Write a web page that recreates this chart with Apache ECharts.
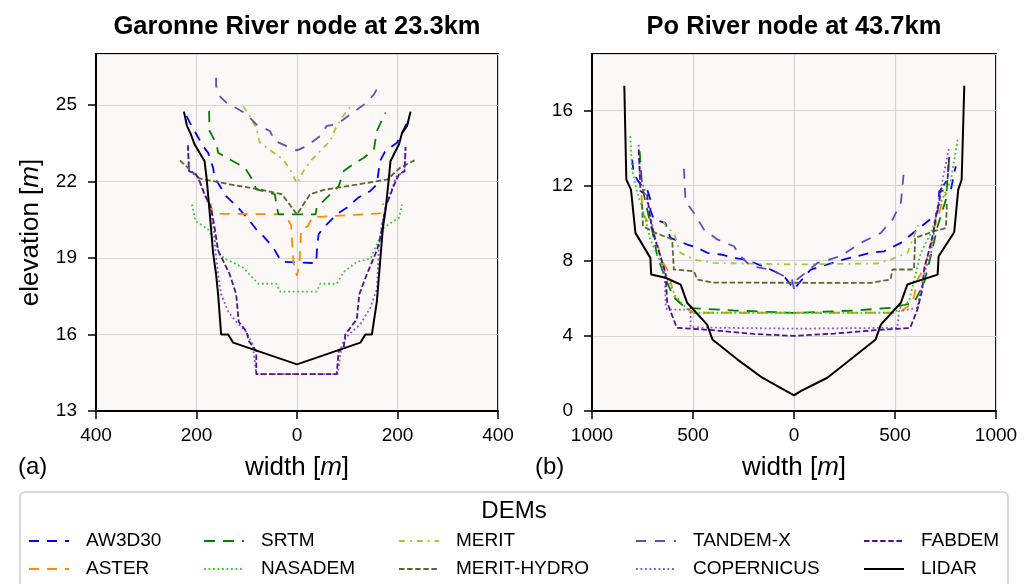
<!DOCTYPE html>
<html>
<head>
<meta charset="utf-8">
<script src="https://cdn.jsdelivr.net/npm/echarts@6/dist/echarts.min.js"></script>
<style>
  html, body { margin: 0; padding: 0; background: #fff; }
  #chart { width: 1031px; height: 584px; }
</style>
</head>
<body>
<div id="chart"></div>
<script>
// DEM names, in legend order (column by column)
const demNames = ['AW3D30', 'ASTER', 'SRTM', 'NASADEM', 'MERIT', 'MERIT-HYDRO', 'TANDEM-X', 'COPERNICUS', 'FABDEM', 'LIDAR'];

// Garonne River node at 23.3km : [width m, elevation m]
const garAW3D30 = [[-220,24.57],[-213,24.3],[-187,23.39],[-177,23.13],[-167,22.54],[-164,22.15],[-141,21.43],[-117,20.97],[-94,20.45],[-81,20.12],[-67,19.86],[-47,19.4],[-31,18.85],[38,18.8],[40,19.4],[43,19.93],[53,20.19],[79,20.71],[99,20.97],[122,21.37],[146,21.63],[159,21.89],[165,22.8],[176,23.2],[199,23.52],[219,24.3],[223,24.57]];
const garASTER = [[-172,21.15],[-168,20.73],[-25,20.72],[-12,20.3],[-9,19.4],[-7,18.8],[0,18.3],[5,18.8],[7,19.6],[8,20.1],[22,20.25],[30,20.6],[166,20.75],[172,21.15]];
const garSRTM = [[-175,24.76],[-174,23.98],[-160,23.46],[-157,23.13],[-134,22.87],[-104,22.54],[-91,22.15],[-81,21.69],[-44,21.5],[-41,21.1],[-37,20.71],[37,20.71],[39,20.97],[66,21.5],[83,21.82],[93,22.41],[106,22.6],[133,22.93],[153,23.26],[159,23.98],[176,24.7]];
const garNASADEM = [[-209,21.1],[-202,20.45],[-177,20.12],[-164,19.67],[-154,19.14],[-141,18.95],[-107,18.62],[-77,17.99],[-41,17.99],[-34,17.68],[39,17.68],[46,17.99],[79,17.99],[93,18.45],[119,18.85],[146,18.97],[159,19.54],[173,20.19],[203,20.58],[209,21.1]];
const garMERIT = [[-107,24.95],[-94,24.57],[-81,24.1],[-74,23.52],[-51,23.2],[-28,22.87],[-14,22.48],[0,21.92],[13,22.42],[30,22.87],[66,23.59],[76,24.05],[89,24.5],[109,25.0]];
const garMERITHYDRO = [[-233,22.83],[-194,22.12],[-134,21.89],[-75,21.69],[-30,21.5],[0,20.71],[26,21.5],[53,21.67],[119,21.88],[180,22.08],[205,22.54],[234,22.83]];
const garTANDEMX = [[-161,26.07],[-161,25.75],[-154,25.35],[-141,25.1],[-105,24.7],[-87,24.37],[-81,24.24],[-54,23.98],[-44,23.59],[-21,23.39],[0,23.22],[19,23.39],[46,23.78],[59,24.18],[79,24.24],[106,24.63],[139,25.1],[153,25.42],[163,25.75]];
const garCOPERNICUS = [[-217,23.3],[-214,22.4],[-198,22.2],[-186,21.6],[-172,20.9],[-165,20.0],[-163,19.4],[-157,18.36],[-151,17.58],[-137,16.9],[-121,16.5],[-101,16.1],[-88,15.6],[-81,14.45],[81,14.45],[89,15.6],[103,16.0],[126,16.4],[146,17.05],[159,17.8],[163,19.4],[168,20.2],[176,21.0],[187,21.6],[198,22.2],[214,22.4],[216,23.3]];
const garFABDEM = [[-217,23.42],[-215,22.41],[-201,22.28],[-194,22.02],[-184,21.5],[-171,20.97],[-164,20.19],[-157,19.3],[-134,18.36],[-121,17.58],[-116,16.5],[-100,16.1],[-96,15.75],[-81,15.35],[-81,14.45],[79,14.45],[83,15.35],[93,15.5],[96,16.0],[119,16.6],[124,17.58],[139,18.36],[159,19.3],[166,19.8],[176,20.97],[186,21.5],[196,22.0],[203,22.28],[214,22.41],[216,23.35]];
const garLIDAR = [[-225,24.74],[-219,24.18],[-211,23.85],[-204,23.46],[-184,22.8],[-180,22.15],[-174,20.84],[-167,19.2],[-161,18.36],[-157,17.58],[-151,16.0],[-137,16.0],[-127,15.68],[0,14.83],[126,15.68],[136,16.0],[149,16.0],[159,17.3],[166,19.0],[171,20.2],[176,20.84],[183,22.15],[186,22.8],[203,23.46],[209,23.9],[219,24.18],[226,24.74]];

// Po River node at 43.7km : [width m, elevation m]
const poAW3D30 = [[-801,13.38],[-796,12.85],[-776,12.3],[-752,11.96],[-727,11.79],[-711,11.25],[-711,10.7],[-694,10.2],[-636,10.0],[-628,9.66],[-611,9.22],[-570,9.04],[-528,8.86],[-479,8.69],[-429,8.42],[-363,8.33],[-297,8.15],[-248,8.07],[-198,7.89],[-116,7.53],[-50,7.18],[0,6.5],[40,7.0],[83,7.53],[248,8.07],[380,8.42],[446,8.5],[529,8.95],[612,9.66],[694,10.37],[711,10.6],[719,11.7],[777,11.78],[793,12.67],[801,13.03]];
const poASTER = [[-755,11.5],[-752,11.0],[-745,10.4],[-711,9.9],[-677,9.0],[-661,8.1],[-620,7.4],[-595,6.11],[-545,5.58],[-496,5.23],[521,5.23],[587,5.76],[612,7.0],[644,7.6],[678,8.77],[686,9.48],[720,10.6],[744,11.43],[758,11.6]];
const poSRTM = [[-764,13.82],[-752,11.96],[-727,10.72],[-700,9.5],[-677,8.24],[-635,7.0],[-594,6.02],[-536,5.49],[-300,5.35],[0,5.22],[300,5.35],[480,5.49],[594,5.76],[644,6.82],[677,8.24],[711,9.83],[752,11.25],[769,13.55]];
const poNASADEM = [[-810,14.62],[-802,12.85],[-777,11.69],[-744,10.54],[-711,9.12],[-645,7.53],[-587,6.11],[-512,5.23],[496,5.23],[570,5.85],[595,7.0],[628,8.42],[678,9.48],[719,10.9],[777,12.31],[810,14.44]];
const poMERIT = [[-645,10.1],[-636,9.83],[-595,9.48],[-562,8.42],[-496,8.06],[-397,7.88],[0,7.8],[413,7.85],[479,8.06],[562,8.42],[612,9.83],[620,10.0]];
const poMERITHYDRO = [[-752,11.0],[-748,9.84],[-686,9.48],[-603,9.13],[-595,7.53],[-496,7.44],[-479,7.0],[-397,6.83],[380,6.82],[478,7.0],[487,7.53],[594,7.53],[600,9.21],[694,9.57],[752,9.74],[757,11.07]];
const poTANDEMX = [[-545,12.89],[-537,11.16],[-496,10.55],[-446,9.66],[-380,9.13],[-297,8.77],[-270,8.3],[-215,7.71],[-115,7.53],[-50,7.18],[-10,7.0],[0,6.5],[15,7.0],[50,7.3],[116,7.88],[231,8.24],[331,8.95],[430,9.48],[488,10.19],[529,11.08],[545,12.85]];
const poCOPERNICUS = [[-769,14.17],[-762,12.5],[-740,11.8],[-715,10.6],[-690,9.3],[-660,8.2],[-640,7.2],[-635,5.58],[-628,5.4],[-512,5.4],[-512,4.45],[0,4.38],[512,4.43],[520,5.31],[610,5.49],[630,6.5],[645,7.35],[678,8.42],[705,10.5],[730,12.0],[769,14.09]];
const poFABDEM = [[-769,13.9],[-762,12.3],[-760,11.7],[-727,11.5],[-711,10.2],[-690,9.2],[-660,8.2],[-636,7.35],[-628,5.8],[-612,5.31],[-580,4.43],[-400,4.3],[-200,4.1],[0,4.0],[200,4.12],[400,4.3],[575,4.42],[611,5.4],[635,6.47],[645,7.6],[670,8.6],[690,9.5],[705,10.5],[719,11.1],[727,11.79],[760,12.32],[769,13.65]];
const poLIDAR = [[-840,17.31],[-830,12.31],[-807,11.78],[-785,9.48],[-711,8.15],[-707,7.26],[-636,7.09],[-561,6.73],[-529,5.76],[-430,4.6],[-404,3.81],[-281,2.75],[-157,1.77],[0,0.83],[33,1.06],[165,1.77],[281,2.75],[404,3.81],[430,4.6],[529,5.76],[561,6.73],[711,7.26],[716,8.24],[793,9.51],[813,11.78],[830,12.31],[843,17.31]];

const garonneData = [garAW3D30, garASTER, garSRTM, garNASADEM, garMERIT, garMERITHYDRO, garTANDEMX, garCOPERNICUS, garFABDEM, garLIDAR];
const poData = [poAW3D30, poASTER, poSRTM, poNASADEM, poMERIT, poMERITHYDRO, poTANDEMX, poCOPERNICUS, poFABDEM, poLIDAR];

// line styles per DEM
const demStyles = [
  { color: '#0000ff', type: [10, 8], width: 1.8 },
  { color: '#ff8c00', type: [10, 8], width: 1.8 },
  { color: '#008000', type: [11, 8], width: 1.8 },
  { color: '#32cd32', type: [1.8, 2.7], width: 1.8 },
  { color: '#9acd32', type: [6, 5, 1.8, 5], width: 1.8 },
  { color: '#556b2f', type: [5.5, 2.6], width: 1.8 },
  { color: '#6a4bb5', type: [10, 9], width: 1.8 },
  { color: '#8a4fd8', type: [1.8, 2.7], width: 1.8 },
  { color: '#4b1590', type: [5.5, 2.6], width: 1.8 },
  { color: '#000000', type: 'solid', width: 2 }
];

const font = '"Liberation Sans", Arial, Helvetica, sans-serif';

const chart = echarts.init(document.getElementById('chart'));

function makeSeries(dataList, idx) {
  return dataList.map((d, i) => ({
    name: demNames[i],
    type: 'line',
    xAxisIndex: idx,
    yAxisIndex: idx,
    data: d,
    symbol: 'none',
    showSymbol: false,
    animation: false,
    color: demStyles[i].color,
    lineStyle: {
      color: demStyles[i].color,
      type: demStyles[i].type,
      width: demStyles[i].width
    },
    z: 2 + i
  }));
}

function xAxisCfg(idx, lim, step) {
  return {
    type: 'value',
    gridIndex: idx,
    min: -lim,
    max: lim,
    interval: step,
    name: 'width [{i|m}]',
    nameLocation: 'middle',
    nameGap: 44,
    nameTextStyle: {
      fontFamily: font, fontSize: 26, color: '#000',
      rich: { i: { fontFamily: font, fontSize: 26, fontStyle: 'italic', color: '#000' } }
    },
    axisLine: { show: true, onZero: false, lineStyle: { color: '#000', width: 2 } },
    axisTick: { show: true, length: 8, lineStyle: { color: '#000', width: 1.5 } },
    axisLabel: {
      fontFamily: font, fontSize: 19, color: '#000', margin: 15,
      formatter: v => String(Math.abs(v))
    },
    splitLine: { show: true, lineStyle: { color: '#d6d6d6', width: 1.2 } }
  };
}

function yAxisCfg(idx, lo, hi, step, withName) {
  const cfg = {
    type: 'value',
    gridIndex: idx,
    min: lo,
    max: hi,
    interval: step,
    axisLine: { show: true, onZero: false, lineStyle: { color: '#000', width: 2 } },
    axisTick: { show: true, length: 8, lineStyle: { color: '#000', width: 1.5 } },
    axisLabel: {
      fontFamily: font, fontSize: 19, color: '#000', margin: 19,
      showMaxLabel: false
    },
    splitLine: { show: true, lineStyle: { color: '#d6d6d6', width: 1.2 } }
  };
  if (withName) {
    cfg.name = 'elevation [{i|m}]';
    cfg.nameLocation = 'middle';
    cfg.nameGap = 52;
    cfg.nameTextStyle = {
      fontFamily: font, fontSize: 26, color: '#000',
      rich: { i: { fontFamily: font, fontSize: 26, fontStyle: 'italic', color: '#000' } }
    };
  }
  return cfg;
}

const legendCols = [
  ['AW3D30', 'ASTER'],
  ['SRTM', 'NASADEM'],
  ['MERIT', 'MERIT-HYDRO'],
  ['TANDEM-X', 'COPERNICUS'],
  ['FABDEM', 'LIDAR']
];
const legendLefts = [28, 203, 398, 635, 863];

const legends = legendCols.map((names, i) => ({
  data: names,
  orient: 'vertical',
  left: legendLefts[i],
  top: 530,
  itemWidth: 40,
  itemHeight: 14,
  itemGap: 6,
  selectedMode: false,
  padding: 0,
  itemStyle: { opacity: 0 },
  textStyle: {
    fontFamily: font, fontSize: 19, color: '#000',
    lineHeight: 22, padding: [0, 0, 0, 12]
  }
}));

const option = {
  animation: false,
  backgroundColor: '#ffffff',
  grid: [
    { left: 96, top: 54, width: 402, height: 357, show: true, backgroundColor: '#fdf8f8', borderColor: '#000', borderWidth: 2 },
    { left: 592, top: 54, width: 404, height: 357, show: true, backgroundColor: '#fdf8f8', borderColor: '#000', borderWidth: 2 }
  ],
  xAxis: [xAxisCfg(0, 400, 200), xAxisCfg(1, 1000, 500)],
  yAxis: [yAxisCfg(0, 13, 27, 3, true), yAxisCfg(1, 0, 19, 4, false)],
  legend: legends,
  graphic: [
    { type: 'text', x: 297, y: 27, style: { text: 'Garonne River node at 23.3km', font: 'bold 25.5px ' + font, fill: '#000', textAlign: 'center', textVerticalAlign: 'middle' } },
    { type: 'text', x: 794, y: 27, style: { text: 'Po River node at 43.7km', font: 'bold 25.5px ' + font, fill: '#000', textAlign: 'center', textVerticalAlign: 'middle' } },
    { type: 'text', x: 18, y: 467, style: { text: '(a)', font: '24px ' + font, fill: '#000', textAlign: 'left', textVerticalAlign: 'middle' } },
    { type: 'text', x: 535, y: 467, style: { text: '(b)', font: '24px ' + font, fill: '#000', textAlign: 'left', textVerticalAlign: 'middle' } },
    { type: 'rect', z: -1, shape: { x: 20, y: 492, width: 988, height: 110, r: 5 }, style: { fill: '#ffffff', stroke: '#cccccc', lineWidth: 1.5 } },
    { type: 'text', x: 514, y: 511, style: { text: 'DEMs', font: '24px ' + font, fill: '#000', textAlign: 'center', textVerticalAlign: 'middle' } }
  ],
  series: makeSeries(garonneData, 0).concat(makeSeries(poData, 1))
};

chart.setOption(option);
</script>
</body>
</html>
